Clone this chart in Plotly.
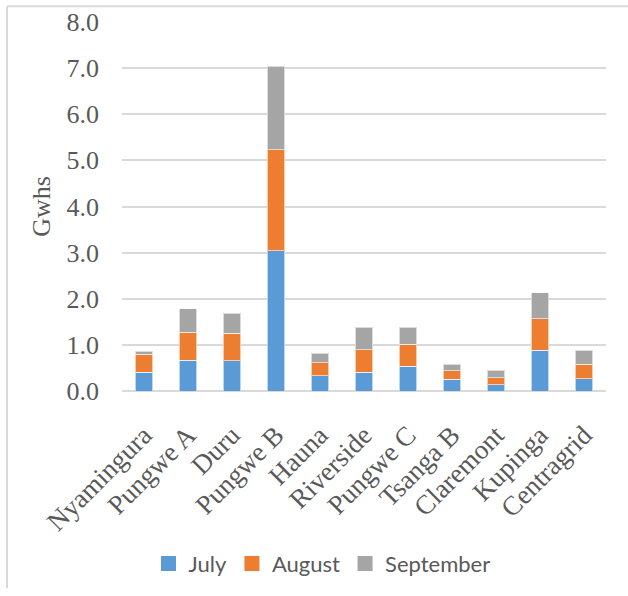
import plotly.graph_objects as go

# Monthly generation per station (GWh), stacked by month
stations = ["Nyamingura", "Pungwe A", "Duru", "Pungwe B", "Hauna", "Riverside",
            "Pungwe C", "Tsanga B", "Claremont", "Kupinga", "Centragrid"]
july = [0.41, 0.67, 0.66, 3.04, 0.33, 0.41, 0.54, 0.25, 0.14, 0.88, 0.27]
august = [0.39, 0.60, 0.59, 2.19, 0.28, 0.48, 0.47, 0.19, 0.15, 0.69, 0.31]
september = [0.06, 0.51, 0.44, 1.81, 0.21, 0.49, 0.37, 0.14, 0.16, 0.56, 0.30]

y_ticks = [0, 1, 2, 3, 4, 5, 6, 7, 8]

W, H = 628, 596
L, R, T, B = 122, 22, 22, 200
plot_w = W - L - R
plot_h = H - T - B


def px_x(x):
    return (x - L) / plot_w


def px_y(y):
    return (H - B - y) / plot_h


serif = "Liberation Serif, Times New Roman, serif"
sans = "Lato, Calibri, sans-serif"
text_grey = "#595959"

series = [("July", july, "#5B9BD5"),
          ("August", august, "#ED7D31"),
          ("September", september, "#A5A5A5")]

fig = go.Figure()
for name, vals, color in series:
    fig.add_trace(go.Bar(
        x=stations, y=vals, name=name, showlegend=False,
        marker=dict(color=color, line=dict(color="rgba(255,255,255,0.6)", width=1)),
    ))
# Square legend keys
for name, vals, color in series:
    fig.add_trace(go.Scatter(
        x=[None], y=[None], mode="markers", name=name,
        marker=dict(symbol="square", size=15, color=color),
    ))

grid = "#D9D9D9"
fig.update_layout(
    width=W, height=H,
    margin=dict(l=L, r=R, t=T, b=B, pad=0),
    barmode="stack", bargap=0.6,
    paper_bgcolor="white", plot_bgcolor="white",
    showlegend=True,
    legend=dict(
        orientation="h", x=px_x(322), xanchor="center",
        y=px_y(571), yanchor="middle",
        font=dict(family=sans, size=22, color=text_grey),
        itemwidth=30, traceorder="normal",
    ),
    xaxis=dict(
        tickangle=-45, showgrid=False, showline=False, zeroline=False,
        tickfont=dict(family=serif, size=27, color=text_grey),
        ticks="", ticklabelstandoff=22, automargin=False,
    ),
    yaxis=dict(
        range=[0, 8], tickvals=y_ticks, tickformat=".1f",
        showgrid=True, gridcolor=grid, gridwidth=2,
        zeroline=True, zerolinecolor=grid, zerolinewidth=2,
        showline=False, ticks="", ticklabelstandoff=22, automargin=False,
        tickfont=dict(family=serif, size=26, color=text_grey),
        title=dict(text="Gwhs", font=dict(family=serif, size=26, color=text_grey),
                   standoff=8),
    ),
    shapes=[
        dict(type="line", xref="paper", yref="paper",
             x0=px_x(7), x1=px_x(7), y0=px_y(6), y1=px_y(596),
             line=dict(color=grid, width=2)),
        dict(type="line", xref="paper", yref="paper",
             x0=px_x(7), x1=px_x(628), y0=px_y(6), y1=px_y(6),
             line=dict(color=grid, width=2)),
    ],
)

fig.write_html("out.html")
